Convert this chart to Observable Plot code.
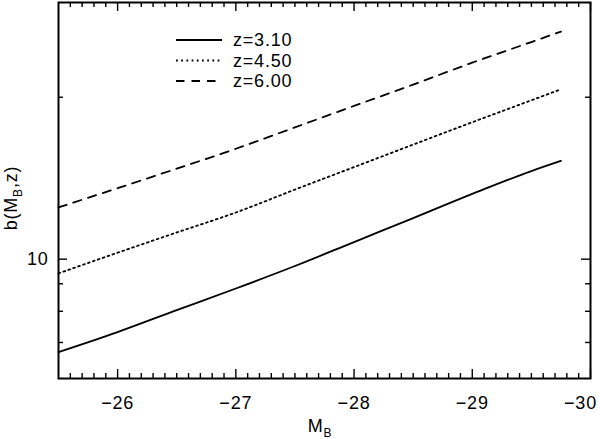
<!DOCTYPE html>
<html><head><meta charset="utf-8">
<script src="https://cdn.jsdelivr.net/npm/d3@7"></script>
<script src="https://cdn.jsdelivr.net/npm/@observablehq/plot@0.6"></script>
<style>
html,body{margin:0;padding:0;background:#fff;}
#chart{width:600px;height:439px;}
</style></head><body><div id="chart"></div>
<script>
// ---- data ----
const mB = [-25.5, -26, -26.5, -27, -27.5, -28, -28.5, -29, -29.5, -29.75];
const b_z310 = [6.72, 7.32, 8.04, 8.82, 9.71, 10.76, 11.92, 13.22, 14.58, 15.23];
const b_z450 = [9.41, 10.28, 11.21, 12.21, 13.47, 14.83, 16.33, 17.97, 19.74, 20.69];
const b_z600 = [12.48, 13.55, 14.73, 16.04, 17.58, 19.27, 21.11, 23.19, 25.33, 26.49];
const seriesNames = ["z=3.10", "z=4.50", "z=6.00"];
const xTickLabels = [-26, -27, -28, -29, -30];
const yTickLabels = [10];
const yMinorTicks = [7, 8, 9, 20];
const xMinorTicks = d3.range(256, 300).filter(v => v % 10 !== 0).map(v => -v / 10);

// ---- layout ----
const W = 600, H = 439, mL = 58, mR = 10, mT = 2, mBot = 61;
const fW = W - mL - mR, fH = H - mT - mBot;
const FONT = "'Liberation Sans', Arial, Helvetica, sans-serif";
const fmtX = d => "\u2212" + Math.abs(d);

const allSeries = [b_z310, b_z450, b_z600];
const dashes = [null, "1.8,3.4", "8.5,7"];
const rows = allSeries.map((vals, i) => mB.map((x, j) => ({x, y: vals[j], s: seriesNames[i]})));

const lineMarks = rows.map((r, i) => Plot.line(r, {
  x: "x", y: "y", stroke: "black", strokeWidth: 1.8,
  strokeDasharray: dashes[i] || undefined, curve: "monotone-x"
}));

const tickStyle = {stroke: "black", strokeWidth: 1.4};
const axisText = {tickSize: 0, tickPadding: 18, fontSize: 18, label: null, tickFormat: fmtX};
const svg = Plot.plot({
  width: W, height: H,
  marginLeft: mL, marginRight: mR, marginTop: mT, marginBottom: mBot,
  style: {fontFamily: FONT, fontSize: "18px", letterSpacing: "0.8px", background: "white", color: "black"},
  x: {domain: [-25.5, -30]},
  y: {type: "log", domain: [6, 30]},
  marks: [
    ...lineMarks,
    // x ticks (bottom & top, inward)
    Plot.tickX(xTickLabels, {x: d => d, insetTop: fH - 9, ...tickStyle}),
    Plot.tickX(xTickLabels, {x: d => d, insetBottom: fH - 9, ...tickStyle}),
    Plot.tickX(xMinorTicks, {x: d => d, insetTop: fH - 5, ...tickStyle}),
    Plot.tickX(xMinorTicks, {x: d => d, insetBottom: fH - 5, ...tickStyle}),
    // y ticks (left & right, inward)
    Plot.tickY(yTickLabels, {y: d => d, insetRight: fW - 9, ...tickStyle}),
    Plot.tickY(yTickLabels, {y: d => d, insetLeft: fW - 9, ...tickStyle}),
    Plot.tickY(yMinorTicks, {y: d => d, insetRight: fW - 5, ...tickStyle}),
    Plot.tickY(yMinorTicks, {y: d => d, insetLeft: fW - 5, ...tickStyle}),
    Plot.axisX({ticks: xTickLabels.slice(0, -1), ...axisText}),
    Plot.axisX({ticks: xTickLabels.slice(-1), ...axisText, dx: -10}),
    Plot.axisY({ticks: yTickLabels, tickSize: 0, tickPadding: 10, fontSize: 18, label: null, tickFormat: d => String(d)}),
    Plot.frame({stroke: "black", strokeWidth: 2})
  ]
});
document.getElementById("chart").appendChild(svg);

// ---- axis titles with subscripts ----
const s = d3.select(svg);
const xt = s.append("text").attr("x", mL + fW / 2 - 4).attr("y", 432)
  .attr("text-anchor", "middle").attr("font-size", 18).attr("fill", "black");
xt.append("tspan").text("M");
xt.append("tspan").attr("font-size", 12).attr("dy", 5).text("B");

const yt = s.append("text").attr("transform", `translate(17,${mT + fH / 2 + 8}) rotate(-90)`)
  .attr("text-anchor", "middle").attr("font-size", 18).attr("fill", "black");
yt.append("tspan").text("b(M");
yt.append("tspan").attr("font-size", 12).attr("dy", 5).text("B");
yt.append("tspan").attr("dy", -5).text(",z)");

// ---- legend ----
const lg = s.append("g").attr("text-anchor", "start");
seriesNames.forEach((name, i) => {
  const y = 40 + i * 20.5;
  lg.append("line").attr("x1", mL + 118).attr("x2", mL + 164).attr("y1", y).attr("y2", y)
    .attr("stroke", "black").attr("stroke-width", 1.8)
    .attr("stroke-dasharray", dashes[i] || null);
  lg.append("text").attr("x", mL + 175).attr("y", y).attr("dy", "0.36em")
    .attr("text-anchor", "start").attr("font-size", 18).attr("fill", "black").text(name);
});
</script>
</body></html>
